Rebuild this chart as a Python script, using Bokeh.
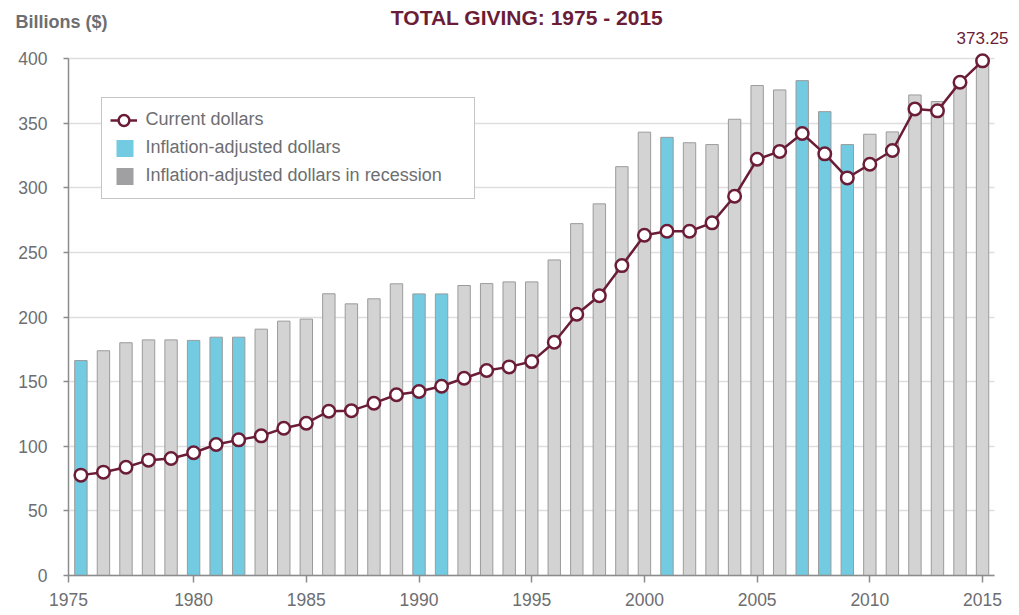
from bokeh.plotting import figure
from bokeh.models import (ColumnDataSource, FixedTicker, Label, Legend,
                          LegendItem, Range1d)
from bokeh.embed import file_html
from bokeh.resources import INLINE

# ---------------- data ----------------
years = list(range(1975, 2016))
current_dollars = [77.7, 80.0, 83.8, 89.3, 90.6, 95.0, 101.4, 105.0, 108.1, 114.0,
                   117.9, 127.2, 127.6, 133.4, 139.9, 142.4, 146.5, 152.7, 158.7, 161.5,
                   165.6, 180.6, 202.3, 216.6, 239.9, 263.4, 266.5, 266.5, 273.0, 293.6,
                   322.2, 328.3, 342.2, 326.4, 307.8, 318.4, 329.0, 361.2, 359.7, 381.8,
                   398.4]
inflation_adjusted = [166.4, 174.0, 180.2, 182.4, 182.4, 182.0, 184.5, 184.5, 190.7, 196.9,
                      198.5, 218.1, 210.3, 214.2, 225.8, 218.0, 218.0, 224.5, 226.0, 227.3,
                      227.3, 244.3, 272.4, 287.7, 316.5, 343.2, 339.2, 335.0, 333.6, 353.2,
                      379.3, 375.9, 383.1, 359.1, 333.6, 341.6, 343.4, 372.0, 366.9, 382.0,
                      397.0]
recession_years = [1975, 1980, 1981, 1982, 1990, 1991, 2001, 2007, 2008, 2009]
x_tick_years = [1975, 1980, 1985, 1990, 1995, 2000, 2005, 2010, 2015]
x_tick_labels = ["1975", "1980", "1985", "1990", "1995", "2000", "2005", "2010", "2015"]
y_ticks = [0, 50, 100, 150, 200, 250, 300, 350, 400]
last_value_label = "373.25"
title_text = "TOTAL GIVING: 1975 - 2015"
y_title = "Billions ($)"
legend_labels = ["Current dollars", "Inflation-adjusted dollars",
                 "Inflation-adjusted dollars in recession"]

# ---------------- layout / styles ----------------
MAROON = "#6b1d38"
BLUE = "#72cbe1"
GRAY_BAR = "#d3d3d3"
GRAY_LEG = "#a0a0a2"
OUTLINE = "#9b9b9b"
AXIS = "#8a8c8e"
TEXT = "#6d6e71"
FONT = "Liberation Sans"

W, H = 1019, 615
X_START, X_END = 1974.45, 2015.53          # extent of the x axis line
AX_LEFT_PX, AX_RIGHT_PX = 68, 994          # where the axis line starts / ends
Y_TOP_TICK = 400
ZERO_PX, TOP_PX = 575, 58.3                # pixel rows of 0 and of 400

ppx = (AX_RIGHT_PX - AX_LEFT_PX) / (X_END - X_START)
ppy = (ZERO_PX - TOP_PX) / Y_TOP_TICK
x_rng = Range1d(X_START - AX_LEFT_PX / ppx, X_START + (W - AX_LEFT_PX) / ppx)
y_rng = Range1d(-(H - ZERO_PX) / ppy, ZERO_PX / ppy)

p = figure(width=W, height=H, output_backend="svg", toolbar_location=None,
           x_range=x_rng, y_range=y_rng,
           min_border_left=0, min_border_right=0, min_border_top=0, min_border_bottom=0)
p.outline_line_color = None
p.background_fill_color = "white"
p.border_fill_color = "white"

bar_colors = [BLUE if y in recession_years else GRAY_BAR for y in years]
src = ColumnDataSource(dict(year=years, adjusted=inflation_adjusted,
                            current=current_dollars, color=bar_colors))

p.vbar(x="year", top="adjusted", width=0.55, fill_color="color",
       line_color=OUTLINE, line_width=1, source=src)
line_r = p.line(x="year", y="current", line_color=MAROON, line_width=2.5, source=src)
dots_r = p.scatter(x="year", y="current", size=12.5, fill_color="white",
                   line_color=MAROON, line_width=2.5, source=src)

# legend-only swatches (one NaN row so that the legend draws them, nothing in the plot)
nan = float("nan")
blue_sw = p.line(x=[nan], y=[nan], line_color=BLUE, line_width=17, line_dash="0 6 17 100")
gray_sw = p.line(x=[nan], y=[nan], line_color=GRAY_LEG, line_width=17, line_dash="0 6 17 100")

legend = Legend(items=[LegendItem(label=legend_labels[0], renderers=[line_r, dots_r]),
                       LegendItem(label=legend_labels[1], renderers=[blue_sw]),
                       LegendItem(label=legend_labels[2], renderers=[gray_sw])],
                location=(100.5, H - 198.5), glyph_width=27, glyph_height=28,
                label_height=28, label_width=320, padding=8, spacing=0, margin=0,
                label_standoff=9, label_text_font=FONT, label_text_font_size="18px",
                label_text_color=TEXT, border_line_color="#8c8c8c", border_line_width=1,
                background_fill_color="white", background_fill_alpha=1)
p.add_layout(legend)

# axes (pinned at the data origin so the frame spans the whole canvas)
x_tick_pos = [X_START if y == x_tick_years[0] else y for y in x_tick_years]
p.xaxis.ticker = FixedTicker(ticks=x_tick_pos)
p.xaxis.major_label_overrides = {pos: lab for pos, lab in zip(x_tick_pos, x_tick_labels)}
p.xaxis.bounds = (X_START, X_END)
p.xaxis.fixed_location = 0
p.yaxis.ticker = FixedTicker(ticks=y_ticks)
p.yaxis.bounds = (0, Y_TOP_TICK)
p.yaxis.fixed_location = X_START

for ax in (p.xaxis, p.yaxis):
    ax.axis_line_color = AXIS
    ax.axis_line_width = 1.5
    ax.major_tick_line_color = AXIS
    ax.major_tick_line_width = 1.5
    ax.major_tick_in = 0
    ax.minor_tick_line_color = None
    ax.major_label_text_font = FONT
    ax.major_label_text_font_size = "17.5px"
    ax.major_label_text_color = TEXT
p.xaxis.major_tick_out = 7
p.xaxis.major_label_standoff = 10
p.yaxis.major_tick_out = 5
p.yaxis.major_label_standoff = 16

p.xgrid.grid_line_color = None
p.ygrid.grid_line_color = "#dedede"
p.ygrid.grid_line_width = 1.5
if "cross_bounds" in p.ygrid[0].properties():
    p.ygrid.cross_bounds = (X_START, X_END)

# texts
p.add_layout(Label(x=526.5, y=H - 16.7, x_units="screen", y_units="screen", text=title_text,
                   text_align="center", text_baseline="middle", text_font=FONT,
                   text_font_style="bold", text_font_size="21px", text_color=MAROON))
p.add_layout(Label(x=15, y=H - 21, x_units="screen", y_units="screen", text=y_title,
                   text_align="left", text_baseline="middle", text_font=FONT,
                   text_font_style="bold", text_font_size="18px", text_color=TEXT))
p.add_layout(Label(x=years[-1], y=current_dollars[-1], y_offset=23, text=last_value_label,
                   text_align="center", text_baseline="middle", text_font=FONT,
                   text_font_size="17px", text_color=MAROON))

open("out.html", "w").write(file_html(p, INLINE))
